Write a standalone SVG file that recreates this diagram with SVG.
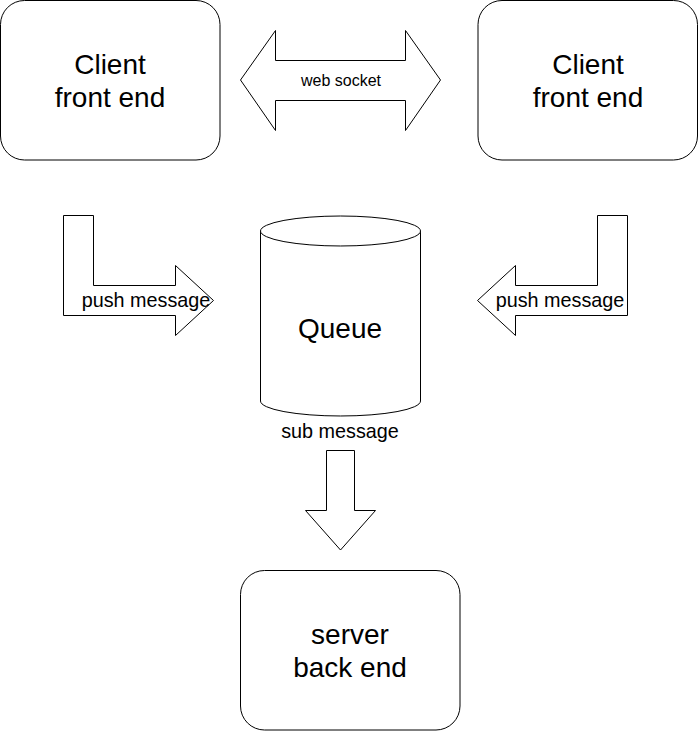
<svg xmlns="http://www.w3.org/2000/svg" width="698" height="731" viewBox="0 0 698 731">
<style>
.s{fill:#fff;stroke:#000;stroke-width:1}
.t{font-family:"Liberation Sans",Arial,sans-serif;fill:#000;text-anchor:middle}
.big{font-size:28px}
.mid{font-size:19.8px}
.sm{font-size:16px}
</style>
<rect width="698" height="731" fill="#fff"/>
<g id="client1">
<rect class="s" x="0.5" y="0.5" width="219.5" height="159.5" rx="24" ry="24"/>
<text class="t big" x="110" y="74">Client</text>
<text class="t big" x="110" y="107">front end</text>
</g>
<g id="client2">
<rect class="s" x="478" y="0.5" width="219.5" height="159.5" rx="24" ry="24"/>
<text class="t big" x="588" y="74">Client</text>
<text class="t big" x="588" y="107">front end</text>
</g>
<g id="queue">
<path class="s" d="M260.5,231 A80,15 0 0 1 420.5,231 L420.5,401 A80,15 0 0 1 260.5,401 Z"/>
<path class="s" fill="none" d="M260.5,231 A80,15 0 0 0 420.5,231"/>
<text class="t big" x="340" y="338">Queue</text>
</g>
<g id="server">
<rect class="s" x="240.5" y="570.5" width="219.5" height="159.5" rx="24" ry="24"/>
<text class="t big" x="350" y="644">server</text>
<text class="t big" x="350" y="677">back end</text>
</g>
<g id="connectors">
<g id="websocket">
<path class="s" d="M240.5,80 L275.5,30.5 L275.5,60.5 L405.5,60.5 L405.5,30.5 L440.5,80 L405.5,130.5 L405.5,100.5 L275.5,100.5 L275.5,130.5 Z"/>
<text class="t sm" x="341" y="86">web socket</text>
</g>
<g id="push-left">
<path class="s" d="M63.5,215.5 L93.5,215.5 L93.5,285.5 L175.5,285.5 L175.5,265.5 L213.5,300.5 L175.5,335.5 L175.5,315.5 L63.5,315.5 Z"/>
<text class="t mid" x="146" y="307">push message</text>
</g>
<g id="push-right">
<path class="s" d="M627.5,215.5 L597.5,215.5 L597.5,285.5 L515.5,285.5 L515.5,265.5 L477.5,300.5 L515.5,335.5 L515.5,315.5 L627.5,315.5 Z"/>
<text class="t mid" x="560" y="307">push message</text>
</g>
<g id="sub">
<path class="s" d="M326.5,450.5 L354.5,450.5 L354.5,510.5 L375.5,510.5 L340.5,550 L305.5,510.5 L326.5,510.5 Z"/>
<text class="t mid" x="340" y="438">sub message</text>
</g>
</g>
</svg>
